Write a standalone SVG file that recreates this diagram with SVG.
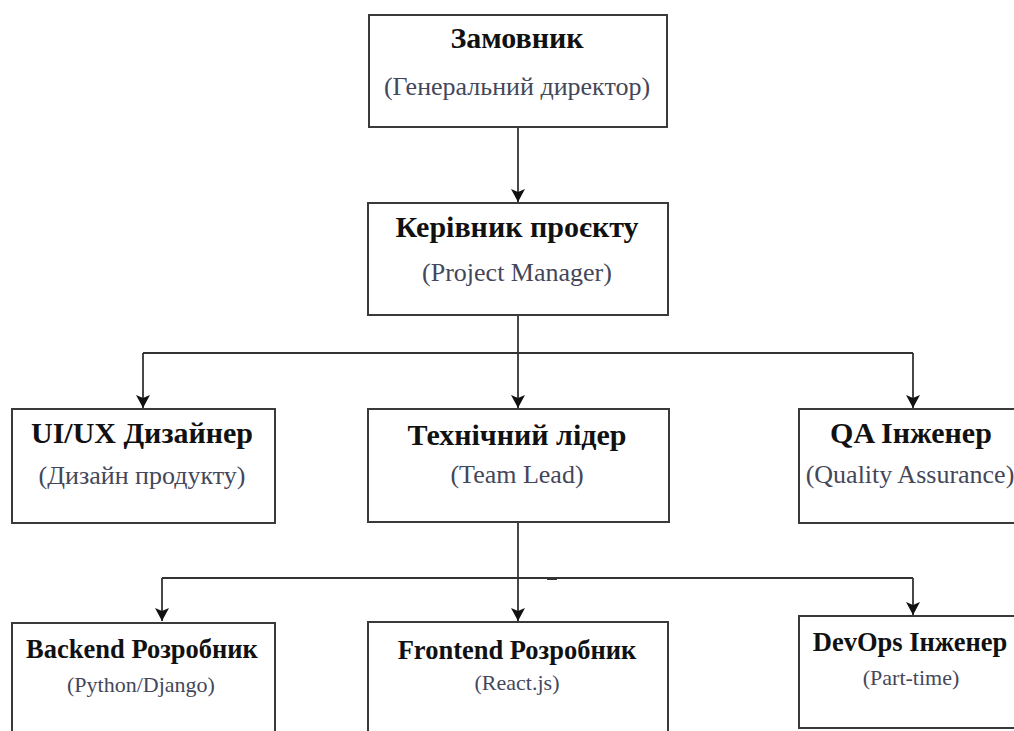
<svg xmlns="http://www.w3.org/2000/svg" width="1014" height="731" viewBox="0 0 1014 731">
  <style>
    .box { fill: #ffffff; stroke: #3a3a3a; stroke-width: 2; }
    .link { fill: none; stroke: #333333; stroke-width: 1.8; }
    .t1 { font-family: "Liberation Serif", "Times New Roman", serif; font-weight: bold; font-size: 30px; fill: #111111; text-anchor: middle; }
    .s1 { font-family: "Liberation Serif", "Times New Roman", serif; font-size: 26px; fill: #44475a; text-anchor: middle; }
    .t2 { font-family: "Liberation Serif", "Times New Roman", serif; font-weight: bold; font-size: 26.5px; fill: #111111; text-anchor: middle; }
    .s2 { font-family: "Liberation Serif", "Times New Roman", serif; font-size: 22px; fill: #44475a; text-anchor: middle; }
  </style>
  <defs>
    <marker id="arrow" markerUnits="userSpaceOnUse" markerWidth="16" markerHeight="16" viewBox="-14 -8 15 16" refX="0" refY="0" orient="auto">
      <path d="M0,0 L-13,-7 L-10,0 L-13,7 Z" fill="#111111"/>
    </marker>
  </defs>
  <rect width="1014" height="731" fill="#ffffff"/>

  <!-- connectors -->
  <g id="connectors">
    <path class="link" d="M518,127 V202" marker-end="url(#arrow)"/>
    <path class="link" d="M518,315 V408"  marker-end="url(#arrow)"/>
    <path class="link" d="M143,353 H913"/>
    <path class="link" d="M143,353 V408" marker-end="url(#arrow)"/>
    <path class="link" d="M913,353 V408" marker-end="url(#arrow)"/>
    <path class="link" d="M518,522 V621" marker-end="url(#arrow)"/>
    <path class="link" d="M162,578 H913"/>
    <path class="link" d="M162,578 V621" marker-end="url(#arrow)"/>
    <path class="link" d="M913,578 V615" marker-end="url(#arrow)"/>
    <rect x="547" y="577" width="10" height="3" fill="#333333"/>
  </g>

  <!-- level 1 -->
  <g id="client">
    <rect class="box" x="369" y="15" width="298" height="112"/>
    <text class="t1" x="517" y="48">Замовник</text>
    <text class="s1" x="517" y="95">(Генеральний директор)</text>
  </g>

  <!-- level 2 -->
  <g id="project-manager">
    <rect class="box" x="368" y="203" width="300" height="112"/>
    <text class="t1" x="517" y="237">Керівник проєкту</text>
    <text class="s1" x="517" y="281">(Project Manager)</text>
  </g>

  <!-- level 3 -->
  <g id="designer">
    <rect class="box" x="12" y="409" width="263" height="114"/>
    <text class="t1" x="142" y="443">UI/UX Дизайнер</text>
    <text class="s1" x="142" y="484">(Дизайн продукту)</text>
  </g>
  <g id="team-lead">
    <rect class="box" x="368" y="409" width="301" height="113"/>
    <text class="t1" x="517" y="445">Технічний лідер</text>
    <text class="s1" x="517" y="483">(Team Lead)</text>
  </g>
  <g id="qa-engineer">
    <rect class="box" x="799" y="409" width="230" height="114"/>
    <text class="t1" x="911" y="443">QA Інженер</text>
    <text class="s1" x="910" y="483">(Quality Assurance)</text>
  </g>

  <!-- level 4 -->
  <g id="backend-dev">
    <rect class="box" x="12" y="623" width="263" height="130"/>
    <text class="t2" x="142" y="658">Backend Розробник</text>
    <text class="s2" x="141" y="692">(Python/Django)</text>
  </g>
  <g id="frontend-dev">
    <rect class="box" x="368" y="622" width="300" height="130"/>
    <text class="t2" x="517" y="659">Frontend Розробник</text>
    <text class="s2" x="517" y="690">(React.js)</text>
  </g>
  <g id="devops-engineer">
    <rect class="box" x="799" y="616" width="230" height="112"/>
    <text class="t2" x="910" y="651">DevOps Інженер</text>
    <text class="s2" x="911" y="685">(Part-time)</text>
  </g>
</svg>
